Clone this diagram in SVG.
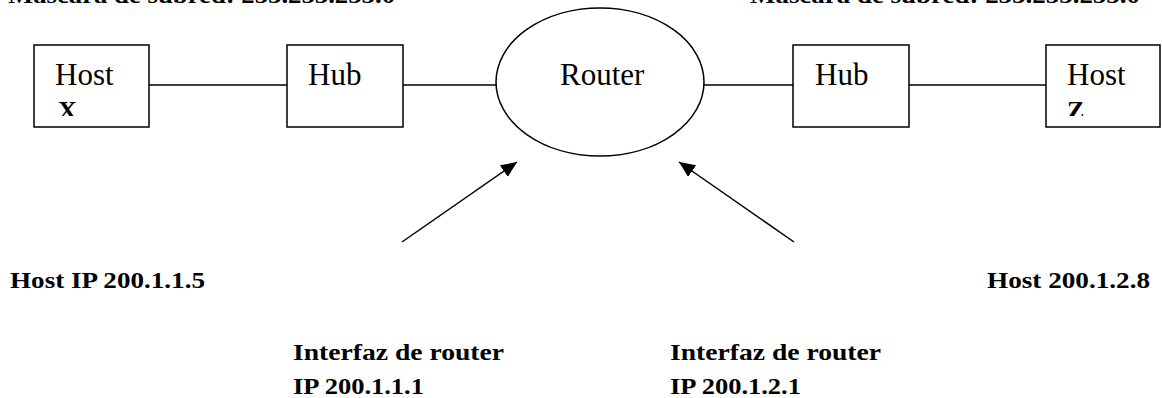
<svg xmlns="http://www.w3.org/2000/svg" width="1162" height="398" viewBox="0 0 1162 398">
<style>
.box{fill:#fff;stroke:#000;stroke-width:1.5}
.ln{fill:none;stroke:#000;stroke-width:1.5}
.t{font-family:"Liberation Serif","Times New Roman",serif;font-size:31px;fill:#000}
.tb{font-family:"Liberation Serif","Times New Roman",serif;font-size:26px;font-weight:bold;fill:#000}
.lb{font-family:"Liberation Serif","Times New Roman",serif;font-size:24px;font-weight:bold;fill:#000}
</style>
<defs>
<marker id="ah" markerUnits="userSpaceOnUse" markerWidth="18" markerHeight="14" refX="16" refY="7" orient="auto">
<path d="M0,0 L16,7 L0,14 Z" fill="#000"/>
</marker>
<clipPath id="cx"><rect x="0" y="40" width="1162" height="76"/></clipPath>
</defs>
<g id="top-labels">
<text class="lb" x="8" y="3" textLength="387" lengthAdjust="spacingAndGlyphs">Máscara de subred: 255.255.255.0</text>
<text class="lb" x="750" y="3" textLength="390" lengthAdjust="spacingAndGlyphs">Máscara de subred: 255.255.255.0</text>
</g>
<g id="connectors">
<line class="ln" x1="149" y1="85" x2="287" y2="85"/>
<line class="ln" x1="403" y1="85" x2="496" y2="85"/>
<line class="ln" x1="703" y1="85" x2="793" y2="85"/>
<line class="ln" x1="909" y1="85" x2="1046" y2="85"/>
<line class="ln" x1="402" y1="242" x2="517" y2="162" marker-end="url(#ah)"/>
<line class="ln" x1="794" y1="242" x2="679" y2="162" marker-end="url(#ah)"/>
</g>
<g id="hostX">
<rect class="box" x="34" y="45" width="115" height="82"/>
<text class="t" x="55" y="85">Host</text>
<text class="tb" x="58" y="119" clip-path="url(#cx)">X</text>
</g>
<g id="hubL">
<rect class="box" x="287" y="45" width="116" height="82"/>
<text class="t" x="308" y="85">Hub</text>
</g>
<g id="router">
<ellipse class="box" cx="600" cy="82" rx="104" ry="74"/>
<text class="t" x="560" y="85">Router</text>
</g>
<g id="hubR">
<rect class="box" x="793" y="45" width="116" height="82"/>
<text class="t" x="815" y="85">Hub</text>
</g>
<g id="hostZ">
<rect class="box" x="1046" y="45" width="114" height="82"/>
<text class="t" x="1067" y="85">Host</text>
<text class="tb" x="1067" y="119" clip-path="url(#cx)">Z</text>
</g>
<g id="labels">
<text class="lb" x="10" y="288" textLength="195" lengthAdjust="spacingAndGlyphs">Host IP 200.1.1.5</text>
<text class="lb" x="987" y="288" textLength="163" lengthAdjust="spacingAndGlyphs">Host 200.1.2.8</text>
<text class="lb" x="293" y="360" textLength="211" lengthAdjust="spacingAndGlyphs">Interfaz de router</text>
<text class="lb" x="293" y="394" textLength="131" lengthAdjust="spacingAndGlyphs">IP 200.1.1.1</text>
<text class="lb" x="670" y="360" textLength="211" lengthAdjust="spacingAndGlyphs">Interfaz de router</text>
<text class="lb" x="670" y="394" textLength="131" lengthAdjust="spacingAndGlyphs">IP 200.1.2.1</text>
</g>
</svg>
